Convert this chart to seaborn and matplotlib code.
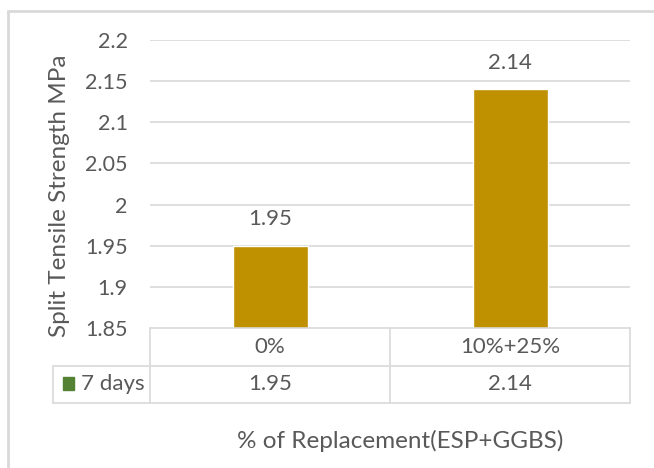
import matplotlib
matplotlib.use("Agg")
import matplotlib.pyplot as plt
from matplotlib.lines import Line2D
from matplotlib.patches import Rectangle
import seaborn as sns
import pandas as pd

# Split tensile strength at 7 days for each replacement level
categories = ["0%", "10%+25%"]
strength_7d = [1.95, 2.14]
series_name = "7 days"
y_ticks = [1.85, 1.9, 1.95, 2.0, 2.05, 2.1, 2.15, 2.2]
y_tick_labels = ["1.85", "1.9", "1.95", "2", "2.05", "2.1", "2.15", "2.2"]

sns.set_theme(style="white")
plt.rcParams["font.family"] = ["Lato", "DejaVu Sans"]

TEXT = "#595959"
GRID = "#D9D9D9"
BAR = "#BF9000"
KEY = "#548235"
FS = 15.5
FS_VAL = 16
FS_TITLE = 17.5

W, H = 654, 468
fig = plt.figure(figsize=(W / 100, H / 100), dpi=100)

def fx(px):
    return px / W

def fy(py):
    return 1 - py / H

# plot area in pixel coordinates
left, right, top, bottom = 150, 630, 40, 328
ax = fig.add_axes([fx(left), fy(bottom), fx(right) - fx(left), fy(top) - fy(bottom)])

df = pd.DataFrame({"category": categories, "value": strength_7d})
sns.barplot(data=df, x="category", y="value", color=BAR, saturation=1,
            width=0.3125, ax=ax, zorder=3)

ax.set_ylim(1.85, 2.2)
ax.set_xlim(-0.5, len(categories) - 0.5)
ax.set_yticks(y_ticks)
ax.set_yticklabels(y_tick_labels, color=TEXT, fontsize=FS)
ax.tick_params(axis="y", length=0, pad=16)
ax.set_xticks([])
ax.set_xlabel("")
ax.set_ylabel("")
for s in ax.spines.values():
    s.set_visible(False)
for t in y_ticks[1:]:
    ax.axhline(t, color=GRID, lw=1.2, zorder=1)

# value labels above bars
for i, v in enumerate(strength_7d):
    ax.annotate(f"{v:g}", (i, v), xytext=(0, 12), textcoords="offset points",
                ha="center", va="bottom", fontsize=FS_VAL, color=TEXT)

# data table below the plot area
row1, row2, row3 = 328, 366, 403
label_left = 53
col_w = (right - left) / len(categories)
cols = [left + i * col_w for i in range(len(categories) + 1)]

def hline(y, x0, x1):
    fig.add_artist(Line2D([fx(x0), fx(x1)], [fy(y), fy(y)], color=GRID, lw=1.2))

def vline(x, y0, y1):
    fig.add_artist(Line2D([fx(x), fx(x)], [fy(y0), fy(y1)], color=GRID, lw=1.2))

hline(row1, left, right)
hline(row2, label_left, right)
hline(row3, label_left, right)
for c in cols:
    vline(c, row1, row3)
vline(label_left, row2, row3)

for i, cat in enumerate(categories):
    cx = (cols[i] + cols[i + 1]) / 2
    fig.text(fx(cx), fy((row1 + row2) / 2), cat, ha="center", va="center",
             fontsize=FS_VAL, color=TEXT)
    fig.text(fx(cx), fy((row2 + row3) / 2), f"{strength_7d[i]:g}", ha="center",
             va="center", fontsize=FS_VAL, color=TEXT)

# legend key inside the table
fig.add_artist(Rectangle((fx(63), fy(390)), fx(11), fy(377) - fy(390),
                         color=KEY, transform=fig.transFigure))
fig.text(fx(81), fy((row2 + row3) / 2), series_name, ha="left", va="center",
         fontsize=FS_VAL, color=TEXT)

# axis titles
fig.text(fx(60), fy(196), "Split Tensile Strength MPa", rotation=90,
         ha="center", va="center", fontsize=FS_TITLE, color=TEXT)
fig.text(fx(400), fy(441), "% of Replacement(ESP+GGBS)", ha="center",
         va="center", fontsize=FS_TITLE, color=TEXT)

# chart area border (top and left edges)
fig.add_artist(Line2D([fx(8), 1.0], [fy(11), fy(11)], color=GRID, lw=2))
fig.add_artist(Line2D([fx(8), fx(8)], [fy(11), 0.0], color=GRID, lw=2))

fig.savefig("out.png", dpi=100)
